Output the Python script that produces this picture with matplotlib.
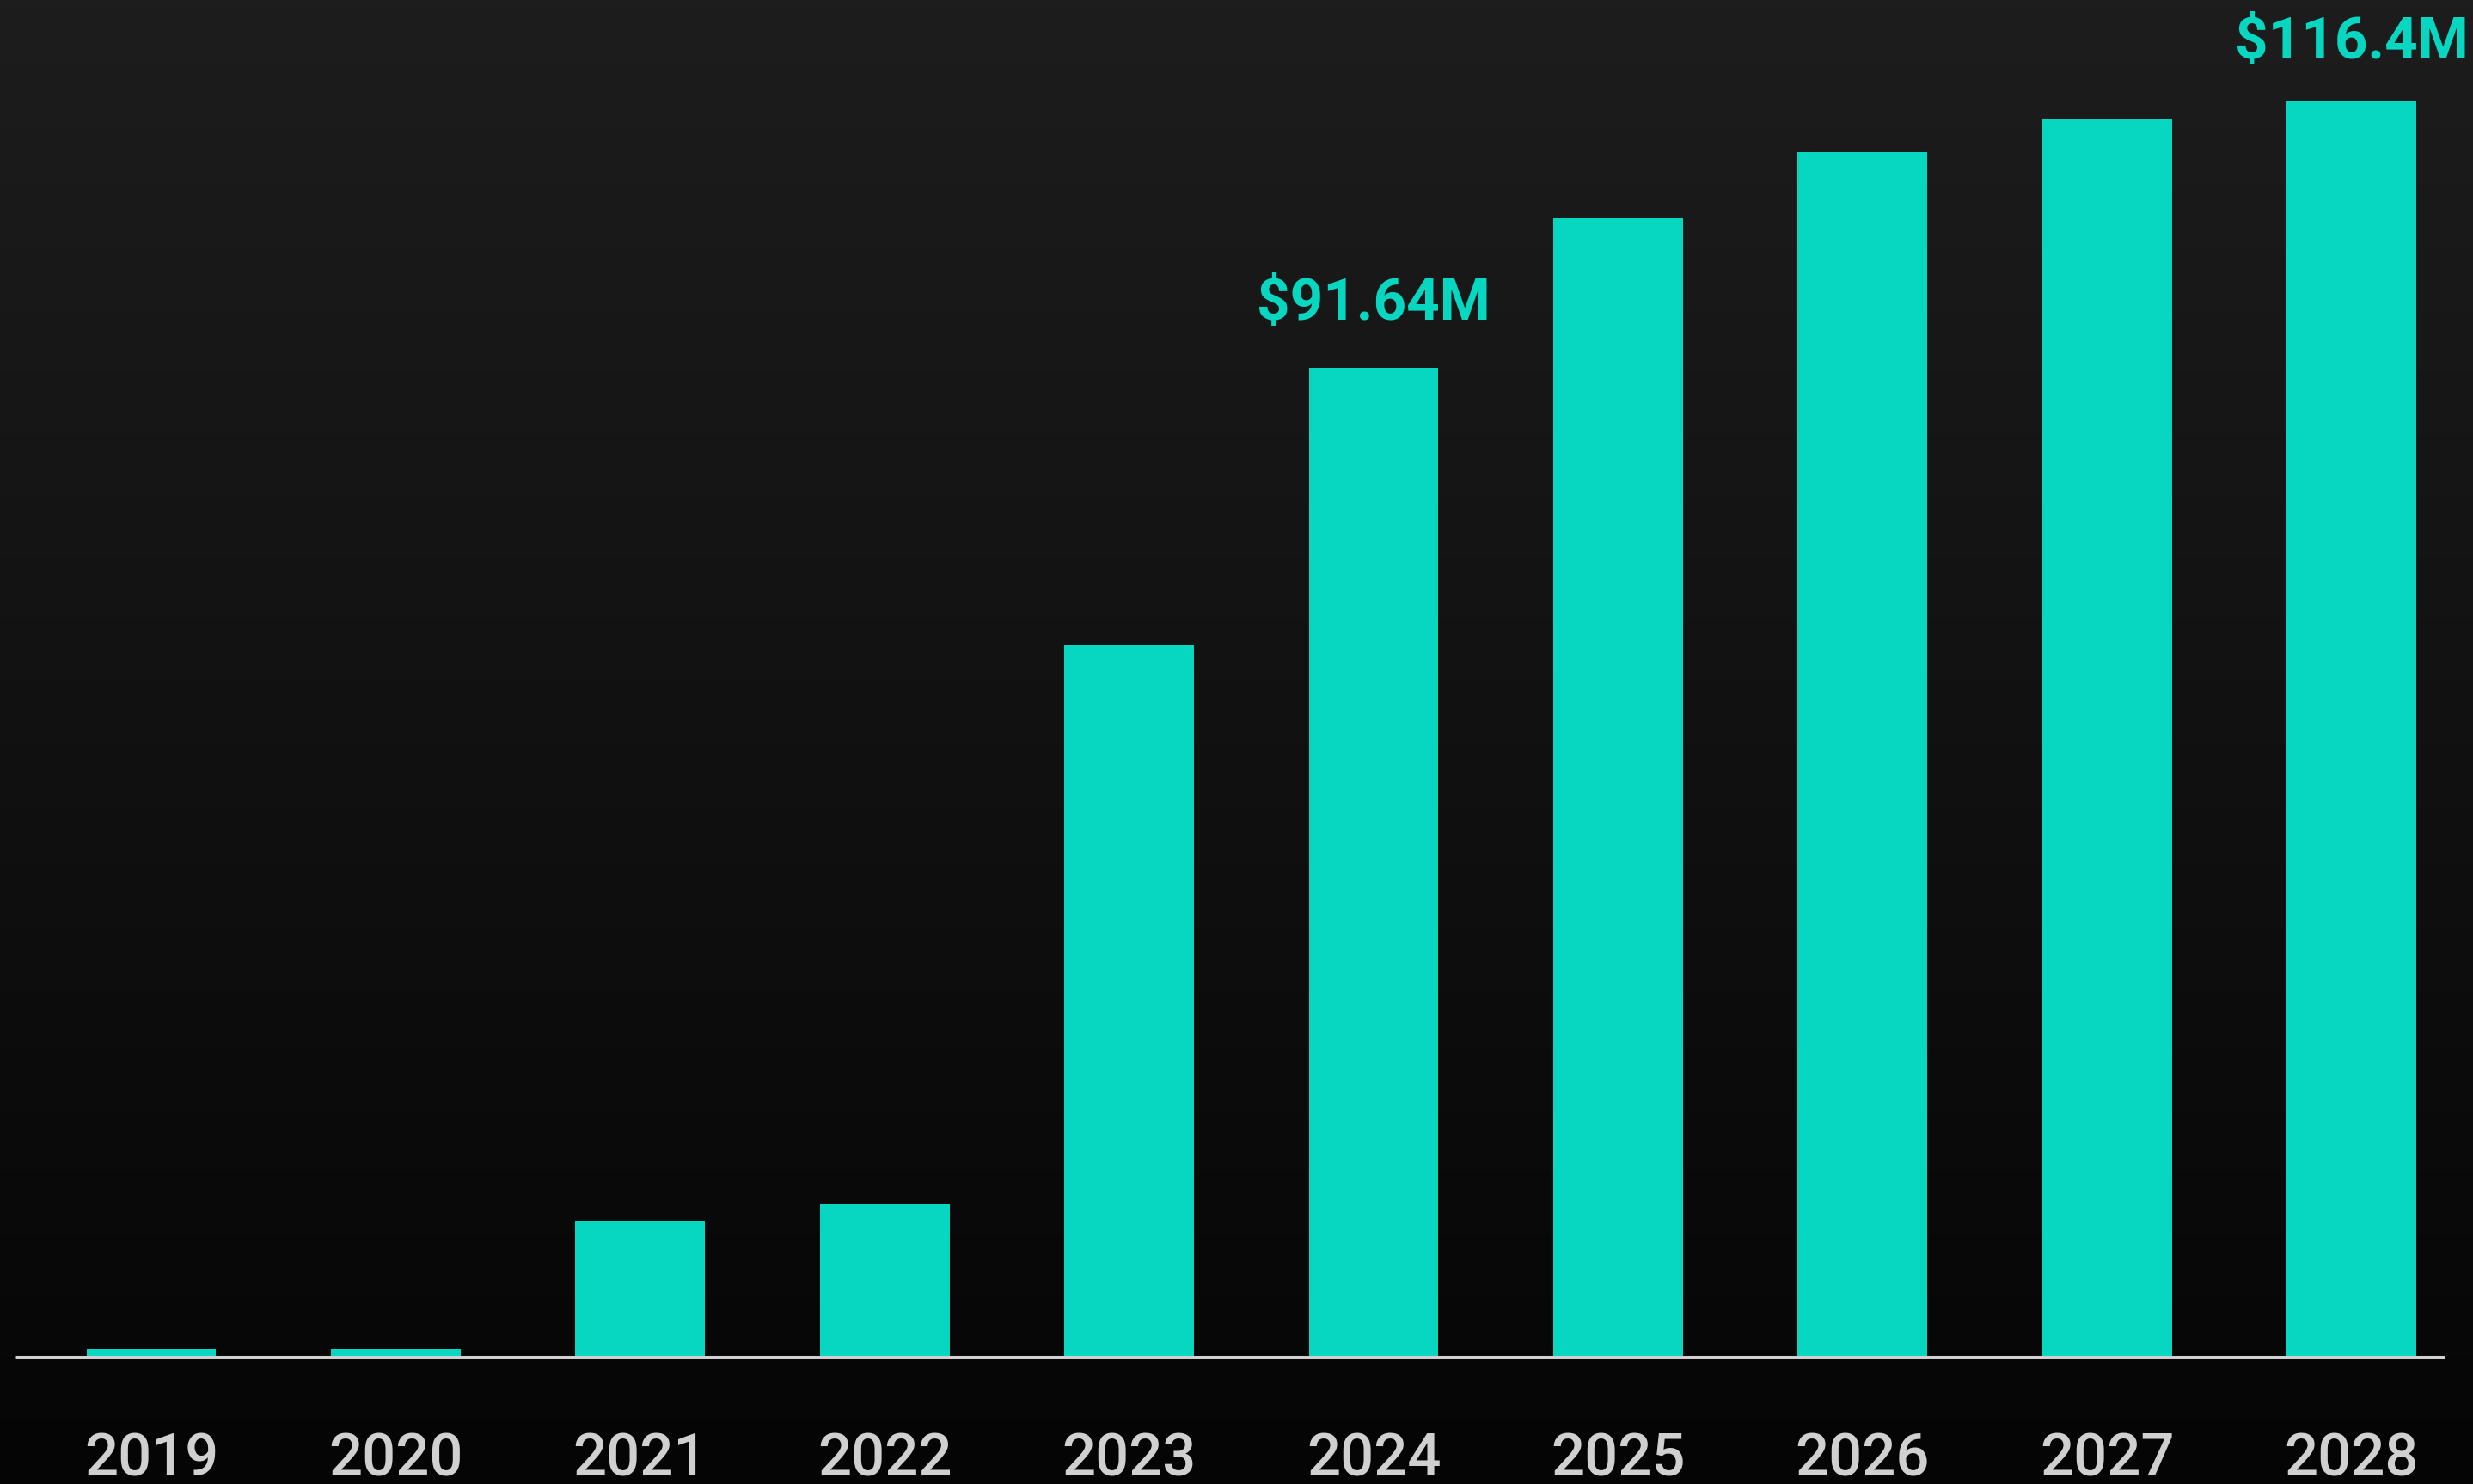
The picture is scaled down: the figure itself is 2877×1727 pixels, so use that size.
import numpy as np
import matplotlib
matplotlib.use('Agg')
import matplotlib.pyplot as plt
import matplotlib.patheffects as pe
from matplotlib import font_manager

# данные
years = ['2019', '2020', '2021', '2022', '2023', '2024', '2025', '2026', '2027', '2028']
values = [0.7, 0.7, 12.6, 14.2, 65.9, 91.64, 105.5, 111.6, 114.6, 116.4]
labelled = {5: '$91.64M', 9: '$116.4M'}
label_offsets = {5: 40, 9: 35}  # в пунктах

bar_color = '#07d6c0'
text_gray = '#d0d0d0'

plt.rcParams['font.family'] = ['Roboto', 'DejaVu Sans']

# есть ли Roboto Medium
has_medium = any('Roboto' in f.name and f.weight in (500, 'medium')
                 for f in font_manager.fontManager.ttflist)

fig = plt.figure(figsize=(28.77, 17.27), dpi=100)
ax = fig.add_axes([0, 0, 1, 1])

x = np.arange(len(years))
xlim = (-0.619, 9.497)
ylim = (-11.78, 125.7)

# фон с градиентом
grad = np.linspace(0, 1, 256).reshape(-1, 1)
ax.imshow(grad, extent=(xlim[0], xlim[1], ylim[0], ylim[1]), aspect='auto',
          cmap=matplotlib.colors.LinearSegmentedColormap.from_list('bg', ['#1d1d1d', '#050505']),
          origin='upper', zorder=0)

ax.bar(x, values, width=0.53, color=bar_color, zorder=2)
ax.plot([-0.556, 9.38], [0, 0], color=text_gray, lw=2.2, zorder=3, solid_capstyle='butt')

if has_medium:
    year_kw = dict(fontweight='medium')
else:
    year_kw = dict(path_effects=[pe.withStroke(linewidth=1.6, foreground=text_gray)])

for i, y in enumerate(years):
    ax.text(i, -10.99, y, ha='center', va='baseline', fontsize=49.5, color=text_gray, **year_kw)

for i, lab in labelled.items():
    ax.annotate(lab, (i, values[i]), xytext=(0, label_offsets[i]), textcoords='offset points',
                ha='center', va='baseline', fontsize=48.5, fontweight='bold', color=bar_color)

ax.set_xlim(*xlim)
ax.set_ylim(*ylim)
ax.axis('off')

fig.savefig('out.png', dpi=100)
plt.close()
